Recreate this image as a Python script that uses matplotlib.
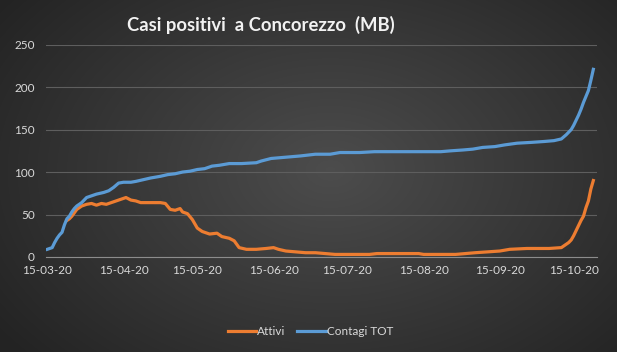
import numpy as np
import matplotlib
matplotlib.use('Agg')
import matplotlib.pyplot as plt
import matplotlib.dates as mdates
from datetime import date

# Contagi TOT (blue)
tot_dates = ['2020-03-15', '2020-03-16', '2020-03-17', '2020-03-18', '2020-03-19', '2020-03-20',
             '2020-03-21', '2020-03-22', '2020-03-23', '2020-03-24', '2020-03-25', '2020-03-26',
             '2020-03-27', '2020-03-28', '2020-03-29', '2020-03-30', '2020-03-31', '2020-04-02',
             '2020-04-04', '2020-04-07', '2020-04-09', '2020-04-11', '2020-04-13', '2020-04-15',
             '2020-04-18', '2020-04-20', '2020-04-23', '2020-04-26', '2020-04-30', '2020-05-03',
             '2020-05-06', '2020-05-09', '2020-05-12', '2020-05-15', '2020-05-18', '2020-05-21',
             '2020-05-24', '2020-05-28', '2020-06-02', '2020-06-08', '2020-06-10', '2020-06-14',
             '2020-06-18', '2020-06-22', '2020-06-26', '2020-07-02', '2020-07-08', '2020-07-12',
             '2020-07-20', '2020-07-26', '2020-08-10', '2020-08-22', '2020-08-26', '2020-08-31',
             '2020-09-04', '2020-09-08', '2020-09-13', '2020-09-17', '2020-09-22', '2020-09-28',
             '2020-10-03', '2020-10-07', '2020-10-10', '2020-10-12', '2020-10-13', '2020-10-14',
             '2020-10-15', '2020-10-16', '2020-10-17', '2020-10-18', '2020-10-19', '2020-10-20',
             '2020-10-21', '2020-10-22', '2020-10-23']
tot_vals = [9, 10, 11, 17, 22, 26,
            29, 38, 45, 48, 53, 57,
            60, 62, 64, 67, 70, 72,
            74, 76, 78, 82, 87, 88,
            88, 89, 91, 93, 95, 97,
            98, 100, 101, 103, 104, 107,
            108, 110, 110, 111, 113, 116,
            117, 118, 119, 121, 121, 123,
            123, 124, 124, 124, 125, 126,
            127, 129, 130, 132, 134, 135,
            136, 137, 139, 144, 147, 150,
            155, 161, 167, 174, 182, 189,
            196, 208, 221]

# Attivi (orange)
att_dates = ['2020-03-23', '2020-03-24', '2020-03-25', '2020-03-26', '2020-03-27', '2020-03-28',
             '2020-03-29', '2020-03-31', '2020-04-02', '2020-04-04', '2020-04-06', '2020-04-08',
             '2020-04-10', '2020-04-12', '2020-04-14', '2020-04-16', '2020-04-18', '2020-04-20',
             '2020-04-22', '2020-04-26', '2020-04-30', '2020-05-02', '2020-05-04', '2020-05-06',
             '2020-05-08', '2020-05-09', '2020-05-11', '2020-05-13', '2020-05-15', '2020-05-17',
             '2020-05-20', '2020-05-23', '2020-05-25', '2020-05-28', '2020-05-30', '2020-06-01',
             '2020-06-04', '2020-06-08', '2020-06-12', '2020-06-15', '2020-06-17', '2020-06-20',
             '2020-06-24', '2020-06-28', '2020-07-02', '2020-07-06', '2020-07-10', '2020-07-24',
             '2020-07-27', '2020-08-13', '2020-08-15', '2020-08-28', '2020-09-01', '2020-09-05',
             '2020-09-10', '2020-09-15', '2020-09-19', '2020-09-26', '2020-10-05', '2020-10-10',
             '2020-10-12', '2020-10-13', '2020-10-14', '2020-10-15', '2020-10-16', '2020-10-17',
             '2020-10-18', '2020-10-19', '2020-10-20', '2020-10-21', '2020-10-22', '2020-10-23']
att_vals = [43, 45, 48, 52, 56, 58,
            60, 62, 63, 61, 63, 62,
            64, 66, 68, 70, 67, 66,
            64, 64, 64, 63, 56, 55,
            57, 53, 51, 44, 34, 30,
            27, 28, 24, 22, 19, 11,
            9, 9, 10, 11, 9, 7,
            6, 5, 5, 4, 3, 3,
            4, 4, 3, 3, 4, 5,
            6, 7, 9, 10, 10, 11,
            15, 17, 20, 25, 31, 37,
            43, 48, 58, 66, 80, 90]

tot_dates = [np.datetime64(d) for d in tot_dates]
att_dates = [np.datetime64(d) for d in att_dates]

plt.rcParams['font.family'] = ['Lato', 'DejaVu Sans']

fig = plt.figure(figsize=(6.17, 3.52), dpi=100)

# dark radial background
bg = fig.add_axes([0, 0, 1, 1], zorder=-10)
yy, xx = np.mgrid[0:352, 0:617]
r = np.sqrt(((xx - 330) / 380.0) ** 2 + ((yy - 170) / 260.0) ** 2)
shade = np.clip(0.30 - 0.15 * r, 0.14, 0.30)
bg.imshow(np.dstack([shade, shade, shade]), aspect='auto', extent=[0, 1, 0, 1])
bg.axis('off')

ax = fig.add_axes([0.0746, 0.27, 0.893, 0.603])
ax.set_facecolor('none')

ax.plot(att_dates, att_vals, color='#ED7D31', lw=2.3, label='Attivi', solid_joinstyle='round')
ax.plot(tot_dates, tot_vals, color='#5B9BD5', lw=2.3, label='Contagi TOT', solid_joinstyle='round')

ax.set_xlim(np.datetime64('2020-03-14T12'), np.datetime64('2020-10-24T12'))
ax.set_ylim(0, 250)
ax.set_yticks([0, 50, 100, 150, 200, 250])
months = [date(2020, m, 15) for m in range(3, 11)]
ax.set_xticks(months)
ax.xaxis.set_major_formatter(mdates.DateFormatter('%d-%m-%y'))

ax.grid(axis='y', color='#5e5e5e', lw=0.8)
ax.set_axisbelow(True)
for s in ['top', 'right', 'left']:
    ax.spines[s].set_visible(False)
ax.spines['bottom'].set_color('#8c8c8c')
ax.tick_params(length=0, colors='#d9d9d9', labelsize=8.5)
ax.tick_params(axis='y', pad=8)
ax.tick_params(axis='x', pad=6)

fig.text(0.422, 0.928, 'Casi positivi  a Concorezzo  (MB)', ha='center', va='center',
         color='#f2f2f2', fontsize=13.3, fontweight='bold')

fig.legend(loc='center', bbox_to_anchor=(0.503, 0.058), ncol=2, frameon=False,
           labelcolor='#d9d9d9', fontsize=8.5, handlelength=2.4, handletextpad=0.1,
           columnspacing=1.0)

fig.savefig('out.png', dpi=100)
